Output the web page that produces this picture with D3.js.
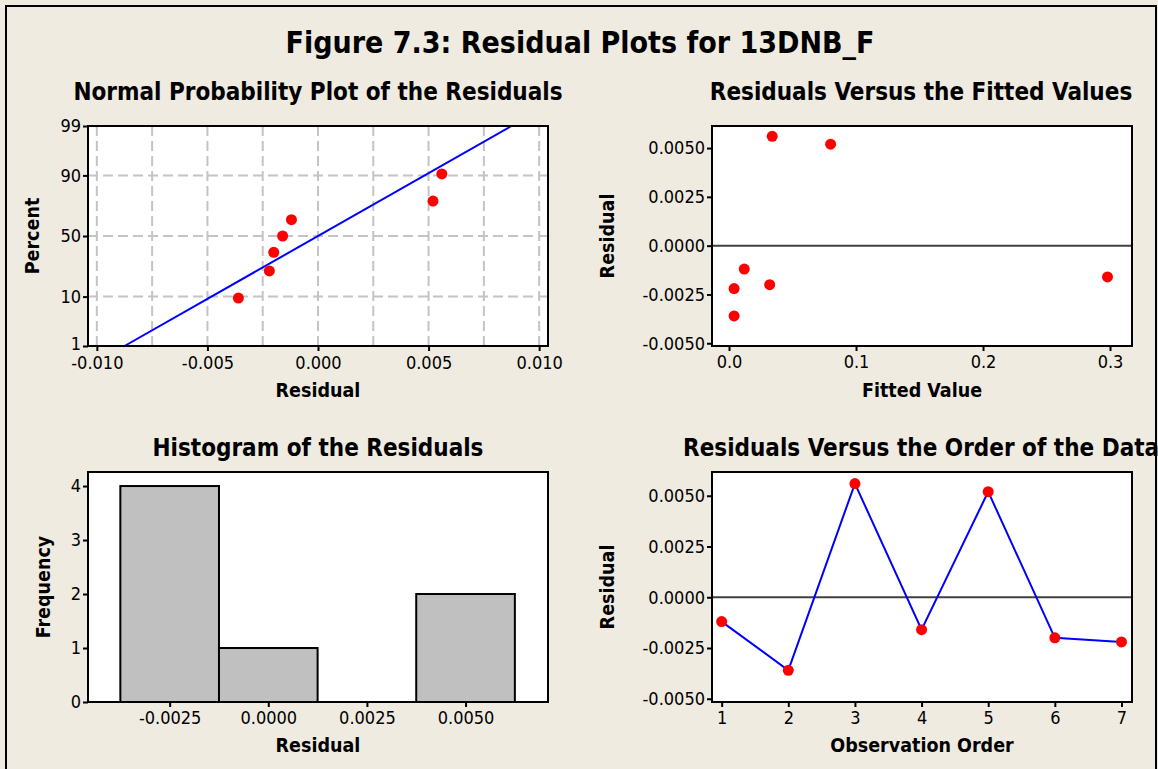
<!DOCTYPE html>
<html><head><meta charset="utf-8">
<script src="https://cdn.jsdelivr.net/npm/d3@7"></script>
<style>
html,body{margin:0;padding:0;background:#EFEBE1;}
svg{display:block;}
text{font-family:"DejaVu Sans Condensed","DejaVu Sans",sans-serif;fill:#000;}
</style></head><body>
<svg id="c" width="1158" height="769"></svg>
<script>
// ---------------- data ----------------
const observationOrder = [1, 2, 3, 4, 5, 6, 7];
const residuals = [-0.0012, -0.0036, 0.0056, -0.0016, 0.0052, -0.0020, -0.0022];
const fittedValues = [0.012, 0.004, 0.034, 0.298, 0.080, 0.032, 0.004];
const probPercent = [9.46, 22.97, 36.49, 50, 63.51, 77.03, 90.54]; // paired with sorted residuals
const fitLineMean = 0;
const fitLineSD = 0.00376;
const histBinCenters = [-0.0025, 0, 0.0025, 0.005];
const histCounts = [4, 1, 0, 2];
const histBinWidth = 0.0025;
const probTicksPct = [1, 10, 50, 90, 99];
const probXTicks = [-0.010, -0.005, 0, 0.005, 0.010];
const probGridX = [-0.0100, -0.0075, -0.0050, -0.0025, 0, 0.0025, 0.0050, 0.0075, 0.0100];
const probGridPct = [10, 50, 90];
const residTicks = [-0.005, -0.0025, 0, 0.0025, 0.005];
const fittedTicks = [0, 0.1, 0.2, 0.3];
const histXTicks = [-0.0025, 0, 0.0025, 0.005];
const histYTicks = [0, 1, 2, 3, 4];
const titleText = "Figure 7.3: Residual Plots for 13DNB_F";
const panelTitles = ["Normal Probability Plot of the Residuals", "Residuals Versus the Fitted Values",
  "Histogram of the Residuals", "Residuals Versus the Order of the Data"];

// ---------------- helpers ----------------
function normInv(p) {
  const a = [-3.969683028665376e+01, 2.209460984245205e+02, -2.759285104469687e+02, 1.383577518672690e+02, -3.066479806614716e+01, 2.506628277459239e+00];
  const b = [-5.447609879822406e+01, 1.615858368580409e+02, -1.556989798598866e+02, 6.680131188771972e+01, -1.328068155288572e+01];
  const c = [-7.784894002430293e-03, -3.223964580411365e-01, -2.400758277161838e+00, -2.549732539343734e+00, 4.374664141464968e+00, 2.938163982698783e+00];
  const d = [7.784695709041462e-03, 3.224671290700398e-01, 2.445134137142996e+00, 3.754408661907416e+00];
  const pl = 0.02425, ph = 1 - pl;
  let q, r;
  if (p < pl) { q = Math.sqrt(-2 * Math.log(p)); return (((((c[0]*q+c[1])*q+c[2])*q+c[3])*q+c[4])*q+c[5]) / ((((d[0]*q+d[1])*q+d[2])*q+d[3])*q+1); }
  if (p <= ph) { q = p - 0.5; r = q*q; return (((((a[0]*r+a[1])*r+a[2])*r+a[3])*r+a[4])*r+a[5])*q / (((((b[0]*r+b[1])*r+b[2])*r+b[3])*r+b[4])*r+1); }
  q = Math.sqrt(-2 * Math.log(1 - p)); return -(((((c[0]*q+c[1])*q+c[2])*q+c[3])*q+c[4])*q+c[5]) / ((((d[0]*q+d[1])*q+d[2])*q+d[3])*q+1);
}

const svg = d3.select("#c");
svg.append("rect").attr("x", 0).attr("y", 0).attr("width", 1158).attr("height", 769).attr("fill", "#EFEBE1");
svg.append("path").attr("d", "M6,769 V6 H1156 V769").attr("fill", "none").attr("stroke", "#000").attr("stroke-width", 2);

svg.append("text").attr("x", 580).attr("y", 53).attr("text-anchor", "middle")
  .attr("font-size", 30).attr("font-weight", "bold").text(titleText);

const P = [
  {l: 88, r: 548, t: 126, b: 346},
  {l: 712, r: 1132, t: 126, b: 346},
  {l: 88, r: 548, t: 472, b: 702},
  {l: 712, r: 1132, t: 472, b: 702}
];

function styleAxis(g) {
  g.select(".domain").remove();
  g.selectAll(".tick line").attr("stroke", "#000").attr("stroke-width", 2);
  g.selectAll(".tick text").attr("font-size", 18).attr("fill", "#000")
    .style("font-family", '"DejaVu Sans Condensed","DejaVu Sans",sans-serif');
}
function panelBg(p) {
  svg.append("rect").attr("x", p.l).attr("y", p.t).attr("width", p.r - p.l).attr("height", p.b - p.t).attr("fill", "#fff");
}
function panelFrame(p) {
  svg.append("rect").attr("x", p.l).attr("y", p.t).attr("width", p.r - p.l).attr("height", p.b - p.t)
    .attr("fill", "none").attr("stroke", "#000").attr("stroke-width", 2);
}
function xAxis(p, scale, ticks, fmt) {
  return svg.append("g").attr("transform", `translate(0,${p.b})`)
    .call(d3.axisBottom(scale).tickValues(ticks).tickFormat(fmt).tickSizeOuter(0).tickSize(5).tickPadding(4))
    .call(styleAxis);
}
function yAxis(p, scale, ticks, fmt) {
  return svg.append("g").attr("transform", `translate(${p.l},0)`)
    .call(d3.axisLeft(scale).tickValues(ticks).tickFormat(fmt).tickSizeOuter(0).tickSize(5).tickPadding(2))
    .call(styleAxis);
}
function xLabel(p, txt, y) {
  svg.append("text").attr("x", (p.l + p.r) / 2).attr("y", y).attr("text-anchor", "middle")
    .attr("font-size", 19.5).attr("font-weight", "bold").text(txt);
}
function yLabel(p, txt, x) {
  svg.append("text").attr("transform", `translate(${x},${(p.t + p.b) / 2}) rotate(-90)`).attr("text-anchor", "middle")
    .attr("font-size", 19.5).attr("font-weight", "bold").text(txt);
}
function pTitle(txt, x, y, anchor) {
  svg.append("text").attr("x", x).attr("y", y).attr("text-anchor", anchor || "middle")
    .attr("font-size", 24).attr("font-weight", "bold").text(txt);
}

// ---------------- Panel 1: normal probability plot ----------------
{
  const p = P[0];
  const x = d3.scaleLinear().domain([-0.0104, 0.0104]).range([p.l, p.r]);
  const zLo = normInv(0.01), zHi = normInv(0.99);
  const yz = d3.scaleLinear().domain([zLo, zHi]).range([p.b, p.t]);
  const y = pct => yz(normInv(pct / 100));
  panelBg(p);
  const grid = svg.append("g").attr("stroke", "#C4C4C4").attr("stroke-width", 2).attr("stroke-dasharray", "10,5");
  grid.selectAll("line.v").data(probGridX).join("line").attr("class", "v")
    .attr("x1", d => x(d)).attr("x2", d => x(d)).attr("y1", p.t).attr("y2", p.b);
  grid.selectAll("line.h").data(probGridPct).join("line").attr("class", "h")
    .attr("x1", p.l).attr("x2", p.r).attr("y1", d => y(d)).attr("y2", d => y(d));
  // fitted normal line
  svg.append("line")
    .attr("x1", x(fitLineMean + fitLineSD * zLo)).attr("y1", yz(zLo))
    .attr("x2", x(fitLineMean + fitLineSD * zHi)).attr("y2", yz(zHi))
    .attr("stroke", "#0000FF").attr("stroke-width", 2);
  const sorted = residuals.slice().sort((a, b) => a - b);
  svg.append("g").selectAll("circle").data(sorted).join("circle")
    .attr("cx", d => x(d)).attr("cy", (d, i) => y(probPercent[i])).attr("r", 5.5).attr("fill", "#FF0000");
  panelFrame(p);
  const gx = xAxis(p, x, probXTicks, d => d.toFixed(3));
  gx.selectAll(".tick text").attr("dy", "0.78em");
  const gy = svg.append("g").attr("transform", `translate(${p.l},0)`)
    .call(d3.axisLeft(d3.scaleLinear().domain([zLo, zHi]).range([p.b, p.t]))
      .tickValues(probTicksPct.map(v => normInv(v / 100))).tickFormat((d, i) => probTicksPct[i])
      .tickSizeOuter(0).tickSize(5).tickPadding(2))
    .call(styleAxis);
  gy.selectAll(".tick text").filter((d, i) => i === 0).attr("dy", "0.2em");
  xLabel(p, "Residual", 397);
  yLabel(p, "Percent", 39);
  pTitle(panelTitles[0], 318, 100);
}

// ---------------- Panel 2: residuals vs fitted ----------------
{
  const p = P[1];
  const x = d3.scaleLinear().domain([-0.0134, 0.3173]).range([p.l, p.r]);
  const y = d3.scaleLinear().domain([-0.00514, 0.00613]).range([p.b, p.t]);
  panelBg(p);
  svg.append("line").attr("x1", p.l).attr("x2", p.r).attr("y1", y(0)).attr("y2", y(0))
    .attr("stroke", "#404040").attr("stroke-width", 2);
  svg.append("g").selectAll("circle").data(residuals).join("circle")
    .attr("cx", (d, i) => x(fittedValues[i])).attr("cy", d => y(d)).attr("r", 5.5).attr("fill", "#FF0000");
  panelFrame(p);
  xAxis(p, x, fittedTicks, d => d.toFixed(1));
  yAxis(p, y, residTicks, d => d.toFixed(4));
  xLabel(p, "Fitted Value", 397);
  yLabel(p, "Residual", 614);
  pTitle(panelTitles[1], 921, 100);
}

// ---------------- Panel 3: histogram ----------------
{
  const p = P[2];
  const x = d3.scaleLinear().domain([-0.00457, 0.00709]).range([p.l, p.r]);
  const y = d3.scaleLinear().domain([0, 4.26]).range([p.b, p.t]);
  panelBg(p);
  svg.append("g").selectAll("rect").data(histCounts).join("rect")
    .attr("x", (d, i) => x(histBinCenters[i] - histBinWidth / 2))
    .attr("width", (d, i) => x(histBinCenters[i] + histBinWidth / 2) - x(histBinCenters[i] - histBinWidth / 2))
    .attr("y", d => y(d)).attr("height", d => y(0) - y(d))
    .attr("fill", "#C0C0C0").attr("stroke", "#000").attr("stroke-width", 2);
  panelFrame(p);
  xAxis(p, x, histXTicks, d => d.toFixed(4));
  yAxis(p, y, histYTicks, d => d.toFixed(0));
  xLabel(p, "Residual", 752);
  yLabel(p, "Frequency", 50);
  pTitle(panelTitles[2], 318, 456);
}

// ---------------- Panel 4: residuals vs order ----------------
{
  const p = P[3];
  const x = d3.scaleLinear().domain([0.855, 7.158]).range([p.l, p.r]);
  const y = d3.scaleLinear().domain([-0.00516, 0.00617]).range([p.b, p.t]);
  panelBg(p);
  svg.append("line").attr("x1", p.l).attr("x2", p.r).attr("y1", y(0)).attr("y2", y(0))
    .attr("stroke", "#404040").attr("stroke-width", 2);
  const line = d3.line().x((d, i) => x(observationOrder[i])).y(d => y(d));
  svg.append("path").attr("d", line(residuals)).attr("fill", "none").attr("stroke", "#0000FF").attr("stroke-width", 2);
  svg.append("g").selectAll("circle").data(residuals).join("circle")
    .attr("cx", (d, i) => x(observationOrder[i])).attr("cy", d => y(d)).attr("r", 5.5).attr("fill", "#FF0000");
  panelFrame(p);
  xAxis(p, x, observationOrder, d => d.toFixed(0));
  yAxis(p, y, residTicks, d => d.toFixed(4));
  xLabel(p, "Observation Order", 752);
  yLabel(p, "Residual", 614);
  pTitle(panelTitles[3], 683, 456, "start");
}
</script>
</body></html>
